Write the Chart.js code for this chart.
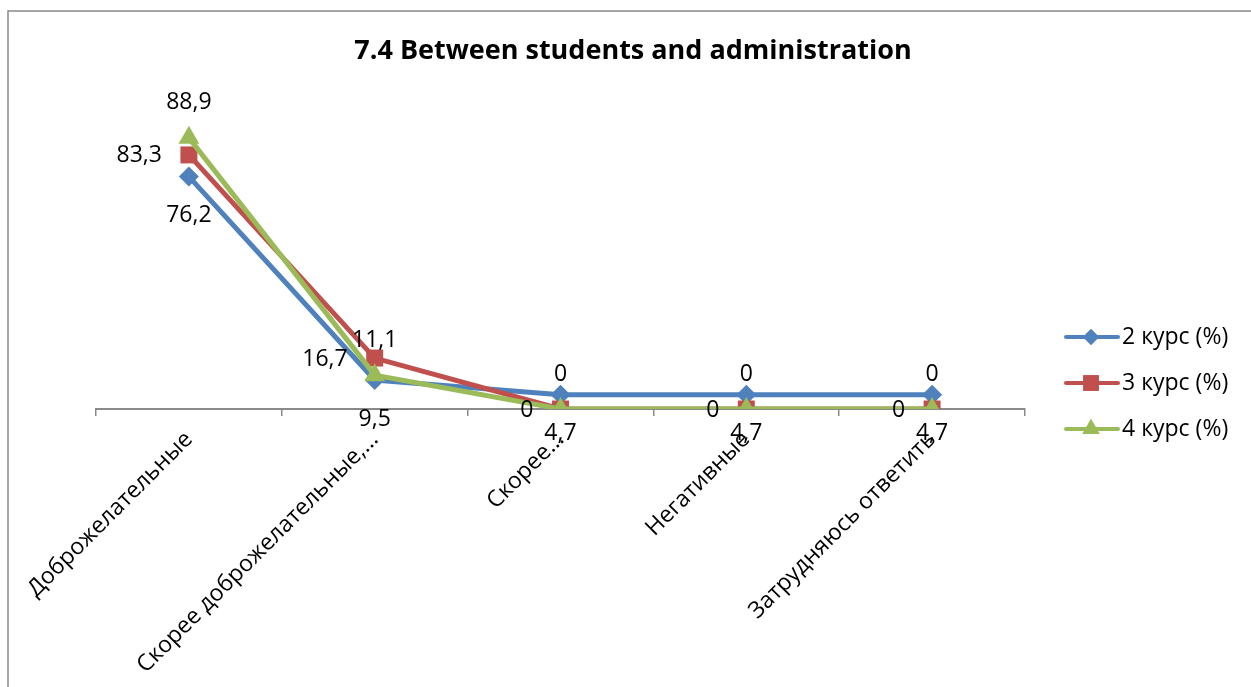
<!DOCTYPE html>
<html>
<head>
<meta charset="utf-8">
<script src="https://cdn.jsdelivr.net/npm/chart.js@4"></script>
<style>
  html, body { margin: 0; padding: 0; background: #fff; }
  #wrap { width: 1251px; height: 687px; }
</style>
</head>
<body>
<div id="wrap"><canvas id="myChart"></canvas></div>
<script>
const categories = ["Доброжелательные", "Скорее доброжелательные,...", "Скорее...", "Негативные", "Затрудняюсь ответить"];
const seriesNames = ["2 курс (%)", "3 курс (%)", "4 курс (%)"];
const kurs2 = [76.2, 9.5, 4.7, 4.7, 4.7];
const kurs3 = [83.3, 16.7, 0, 0, 0];
const kurs4 = [88.9, 11.1, 0, 0, 0];
const chartTitle = "7.4 Between students and administration";

const FONT = "'Open Sans', 'Noto Sans', sans-serif";
const axisGray = "#898989";

// excel-like data labels, one placement per series
const dataLabels = {
  id: "dataLabels",
  afterDatasetsDraw(chart) {
    const ctx = chart.ctx;
    ctx.save();
    ctx.font = "23px " + FONT;
    ctx.fillStyle = "#000";
    chart.data.datasets.forEach((ds, i) => {
      const meta = chart.getDatasetMeta(i);
      meta.data.forEach((pt, j) => {
        const txt = String(ds.data[j]).replace(".", ",");
        ctx.textBaseline = "middle";
        if (ds.labelPos === "below") {
          ctx.textAlign = "center";
          ctx.fillText(txt, pt.x, pt.y + 39);
        } else if (ds.labelPos === "left") {
          ctx.textAlign = "right";
          ctx.fillText(txt, pt.x - 27, pt.y + 1);
        } else {
          ctx.textAlign = "center";
          ctx.fillText(txt, pt.x, pt.y - 35);
        }
      });
    });
    ctx.restore();
  }
};

// title, frame and the legend on the right (line + marker)
const decorations = {
  id: "decorations",
  afterDraw(chart) {
    const ctx = chart.ctx;
    ctx.save();
    ctx.strokeStyle = axisGray;
    ctx.lineWidth = 1.5;
    ctx.beginPath();
    ctx.moveTo(8, 700);
    ctx.lineTo(8, 11);
    ctx.lineTo(1260, 11);
    ctx.stroke();

    ctx.fillStyle = "#000";
    ctx.font = "bold 27px " + FONT;
    ctx.textAlign = "center";
    ctx.textBaseline = "middle";
    ctx.fillText(chartTitle, 633, 51);

    const rows = [337, 383, 429];
    chart.data.datasets.forEach((ds, i) => {
      const y = rows[i];
      ctx.strokeStyle = ds.borderColor;
      ctx.lineWidth = 4;
      ctx.lineCap = "round";
      ctx.beginPath();
      ctx.moveTo(1066, y);
      ctx.lineTo(1118, y);
      ctx.stroke();
      ctx.fillStyle = ds.backgroundColor;
      Chart.helpers.drawPoint(ctx, {
        pointStyle: ds.pointStyle,
        radius: ds.legendRadius,
        rotation: 0,
        borderWidth: 0
      }, 1091, y);
      ctx.fill();
      ctx.fillStyle = "#000";
      ctx.font = "23px " + FONT;
      ctx.textAlign = "left";
      ctx.textBaseline = "middle";
      ctx.fillText(ds.label, 1122, y);
    });
    ctx.restore();
  }
};

const data = {
  labels: categories,
  datasets: [
    {
      label: seriesNames[0],
      data: kurs2,
      borderColor: "#4F81BD",
      backgroundColor: "#4F81BD",
      pointStyle: "rectRot",
      pointRadius: 10,
      legendRadius: 8,
      labelPos: "below",
      order: 3
    },
    {
      label: seriesNames[1],
      data: kurs3,
      borderColor: "#C0504D",
      backgroundColor: "#C0504D",
      pointStyle: "rect",
      pointRadius: 12,
      legendRadius: 11,
      labelPos: "left",
      order: 2
    },
    {
      label: seriesNames[2],
      data: kurs4,
      borderColor: "#9BBB59",
      backgroundColor: "#9BBB59",
      pointStyle: "triangle",
      pointRadius: 12,
      legendRadius: 10,
      labelPos: "above",
      order: 1
    }
  ]
};

const config = {
  type: "line",
  data: data,
  options: {
    responsive: true,
    maintainAspectRatio: false,
    animation: false,
    layout: { padding: { left: 96, right: 226, top: 104, bottom: 0 } },
    elements: {
      line: { borderWidth: 5, tension: 0 },
      point: { borderWidth: 0, hoverRadius: 10 }
    },
    plugins: {
      legend: { display: false },
      tooltip: { enabled: false },
      title: { display: false }
    },
    scales: {
      x: {
        offset: true,
        grid: {
          offset: true,
          drawOnChartArea: false,
          drawTicks: true,
          tickLength: 7,
          color: axisGray,
          lineWidth: 1.5
        },
        border: { display: true, color: axisGray, width: 2 },
        ticks: {
          autoSkip: false,
          minRotation: 45,
          maxRotation: 45,
          color: "#000",
          padding: 10,
          font: { family: FONT, size: 23 }
        },
        afterFit(scale) {
          scale.height = 278;
        }
      },
      y: {
        display: false,
        min: 0,
        max: 100
      }
    }
  },
  plugins: [dataLabels, decorations]
};

const myChart = new Chart(document.getElementById("myChart"), config);
</script>
</body>
</html>
